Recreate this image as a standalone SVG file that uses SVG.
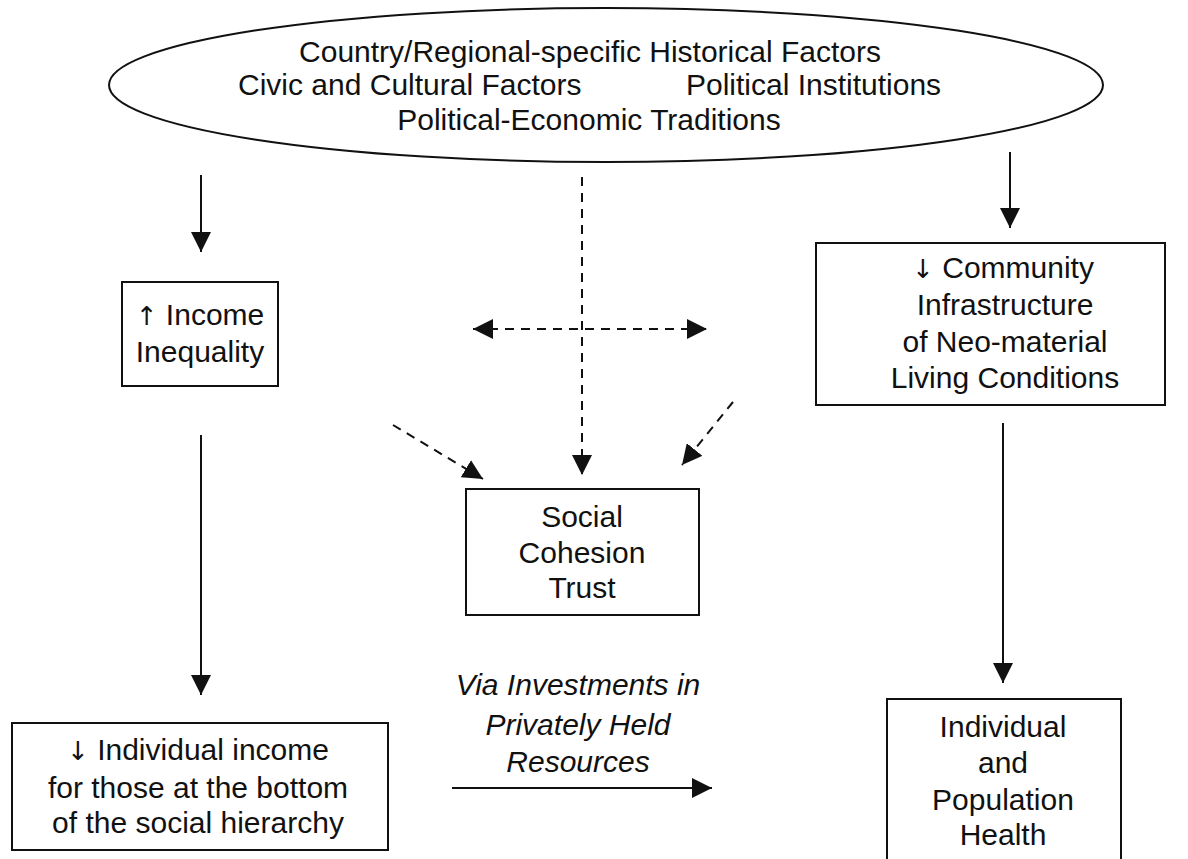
<svg xmlns="http://www.w3.org/2000/svg" width="1188" height="859" viewBox="0 0 1188 859">
<style>
  .t { font-family: "Liberation Sans", Arial, sans-serif; font-size: 30px; fill: #111; }
  .c { text-anchor: middle; }
  .i { font-style: italic; }
  .ar { font-family: "DejaVu Sans", sans-serif; font-size: 26px; fill: #111; }
  .box { fill: none; stroke: #111; stroke-width: 2; }
  .ln { fill: none; stroke: #111; stroke-width: 2; }
  .dash { fill: none; stroke: #111; stroke-width: 2; stroke-dasharray: 9 7; }
</style>
<defs>
  <marker id="ah" viewBox="0 0 20 20" refX="20" refY="10" markerWidth="20" markerHeight="20" markerUnits="userSpaceOnUse" orient="auto-start-reverse">
    <path d="M0,0 L20,10 L0,20 z" fill="#111"/>
  </marker>
</defs>
<rect width="1188" height="859" fill="#fff"/>

<g id="factors">
  <ellipse cx="606" cy="85" rx="497" ry="77" class="box"/>
  <text class="t c" x="590" y="62">Country/Regional-specific Historical Factors</text>
  <text class="t" x="238" y="95">Civic and Cultural Factors</text>
  <text class="t" x="686" y="95">Political Institutions</text>
  <text class="t c" x="589" y="130">Political-Economic Traditions</text>
</g>

<g id="income-inequality">
  <rect x="122" y="282" width="156" height="104" class="box"/>
  <text class="t c" x="200" y="325"><tspan class="ar">↑</tspan> Income</text>
  <text class="t c" x="200" y="362">Inequality</text>
</g>

<g id="community">
  <rect x="816" y="243" width="349" height="162" class="box"/>
  <text class="t c" x="1003" y="278"><tspan class="ar">↓</tspan> Community</text>
  <text class="t c" x="1005" y="315">Infrastructure</text>
  <text class="t c" x="1005" y="352">of Neo-material</text>
  <text class="t c" x="1005" y="388">Living Conditions</text>
</g>

<g id="social-cohesion">
  <rect x="466" y="489" width="233" height="126" class="box"/>
  <text class="t c" x="582" y="527">Social</text>
  <text class="t c" x="582" y="563">Cohesion</text>
  <text class="t c" x="582" y="598">Trust</text>
</g>

<g id="individual-income">
  <rect x="12" y="723" width="376" height="127" class="box"/>
  <text class="t c" x="198" y="760"><tspan class="ar">↓</tspan> Individual income</text>
  <text class="t c" x="198" y="798">for those at the bottom</text>
  <text class="t c" x="198" y="833">of the social hierarchy</text>
</g>

<g id="health">
  <rect x="887" y="699" width="234" height="180" class="box"/>
  <text class="t c" x="1003" y="737">Individual</text>
  <text class="t c" x="1003" y="773">and</text>
  <text class="t c" x="1003" y="810">Population</text>
  <text class="t c" x="1003" y="845">Health</text>
</g>

<g id="connectors">
  <line x1="201" y1="175" x2="201" y2="252" class="ln" marker-end="url(#ah)"/>
  <line x1="201" y1="435" x2="201" y2="695" class="ln" marker-end="url(#ah)"/>
  <line x1="1010" y1="152" x2="1010" y2="228" class="ln" marker-end="url(#ah)"/>
  <line x1="1003" y1="423" x2="1003" y2="683" class="ln" marker-end="url(#ah)"/>
  <line x1="452" y1="788" x2="712" y2="788" class="ln" marker-end="url(#ah)"/>
  <line x1="582" y1="177" x2="582" y2="475" class="dash" marker-end="url(#ah)"/>
  <line x1="473" y1="329" x2="707" y2="329" class="dash" marker-start="url(#ah)" marker-end="url(#ah)"/>
  <line x1="393" y1="425" x2="483" y2="479" class="dash" marker-end="url(#ah)"/>
  <line x1="733" y1="402" x2="682" y2="465" class="dash" marker-end="url(#ah)"/>
  <text class="t c i" x="578" y="695">Via Investments in</text>
  <text class="t c i" x="578" y="735">Privately Held</text>
  <text class="t c i" x="578" y="772">Resources</text>
</g>
</svg>
